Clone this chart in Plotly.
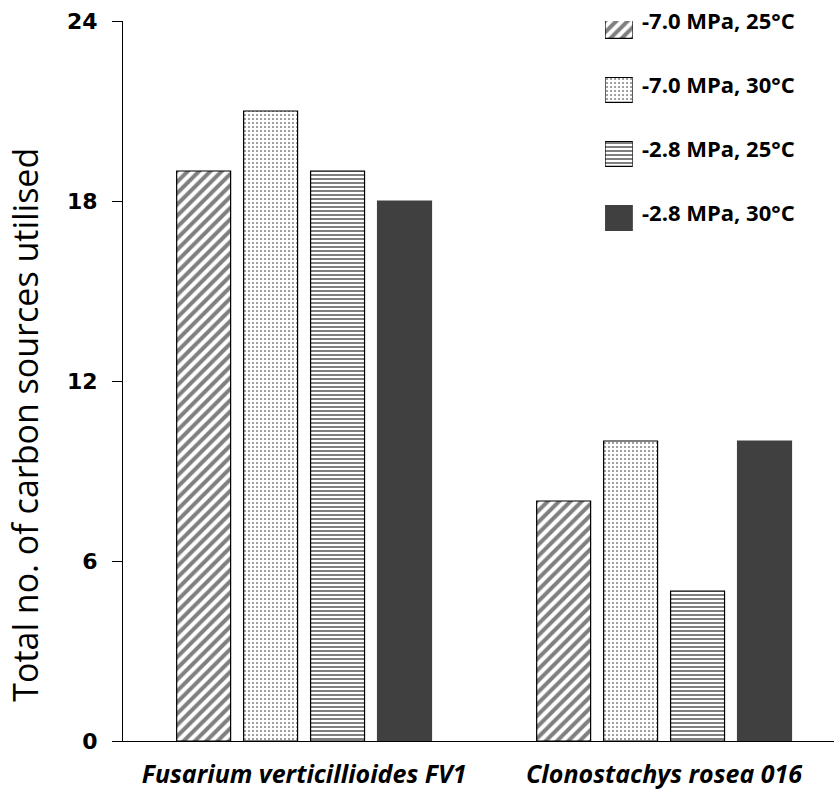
import plotly.graph_objects as go

categories = ["Fusarium verticillioides FV1", "Clonostachys rosea 016"]
series_names = ["-7.0 MPa, 25°C", "-7.0 MPa, 30°C", "-2.8 MPa, 25°C", "-2.8 MPa, 30°C"]
values = [
    [19, 8],
    [21, 10],
    [19, 5],
    [18, 10],
]
y_ticks = [0, 6, 12, 18, 24]
legend_slots = [3, 2, 1, 0]
y_title = "Total no. of carbon sources utilised"

patterns = [
    dict(shape="/", size=8, solidity=0.5, fgcolor="black", bgcolor="white"),
    dict(shape=".", size=4, solidity=0.2, fgcolor="black", bgcolor="white"),
    dict(shape="-", size=4, solidity=0.5, fgcolor="black", bgcolor="white"),
    dict(shape="", fgcolor="#404040", bgcolor="#404040"),
]
colors = ["white", "white", "white", "#404040"]
edge = ["black", "black", "black", "#404040"]

# legend swatch axis geometry
leg_dom = [0.682, 1.0]
leg_rng = [-0.5, 3.078]

def slot_to_paper(v):
    return leg_dom[0] + (v - leg_rng[0]) / (leg_rng[1] - leg_rng[0]) * (leg_dom[1] - leg_dom[0])

fig = go.Figure()
for i, name in enumerate(series_names):
    fig.add_trace(go.Bar(
        x=categories, y=values[i], name=name, showlegend=False,
        marker=dict(color=colors[i], pattern=patterns[i],
                    line=dict(color=edge[i], width=1.2)),
    ))

# legend built from the series as patterned swatches
for i, name in enumerate(series_names):
    fig.add_trace(go.Bar(
        x=[1], y=[legend_slots[i]], base=0, orientation="h", width=0.39,
        xaxis="x2", yaxis="y2", showlegend=False, hoverinfo="skip",
        marker=dict(color=colors[i], pattern=patterns[i],
                    line=dict(color=edge[i], width=1.2)),
    ))
    fig.add_annotation(
        text=name, xref="paper", yref="paper", x=0.727,
        y=slot_to_paper(legend_slots[i] + 0.09),
        xanchor="left", yanchor="middle", showarrow=False,
        font=dict(family="Open Sans", size=22, color="black", weight="bold"),
    )

fig.add_annotation(
    text=y_title, xref="paper", yref="paper", x=-0.138, y=0.439,
    xanchor="center", yanchor="middle", textangle=-90, showarrow=False,
    font=dict(family="Open Sans", size=34, color="black"),
)

fig.update_layout(
    width=834, height=796,
    margin=dict(l=123, r=0, t=21, b=55),
    plot_bgcolor="white", paper_bgcolor="white",
    barmode="group", bargap=0.256, bargroupgap=0.194,
    showlegend=False,
    xaxis=dict(range=[-0.503, 1.472], showline=True, linecolor="black", linewidth=1,
               ticks="", showgrid=False, ticklabelstandoff=11,
               tickfont=dict(family="Open Sans", size=25, color="black", weight="bold", style="italic")),
    yaxis=dict(range=[0, 24], tickvals=y_ticks, showline=True, linecolor="black", linewidth=1,
               ticks="outside", ticklen=10, tickcolor="black", showgrid=False, zeroline=False,
               ticklabelstandoff=10,
               tickfont=dict(family="DejaVu Sans", size=22, color="black", weight="bold")),
    xaxis2=dict(domain=[0.678, 0.717], range=[0, 1], anchor="y2", visible=False, fixedrange=True),
    yaxis2=dict(domain=leg_dom, range=leg_rng, anchor="x2", visible=False,
                showgrid=False, zeroline=False, fixedrange=True),
)

fig.write_html("out.html")
